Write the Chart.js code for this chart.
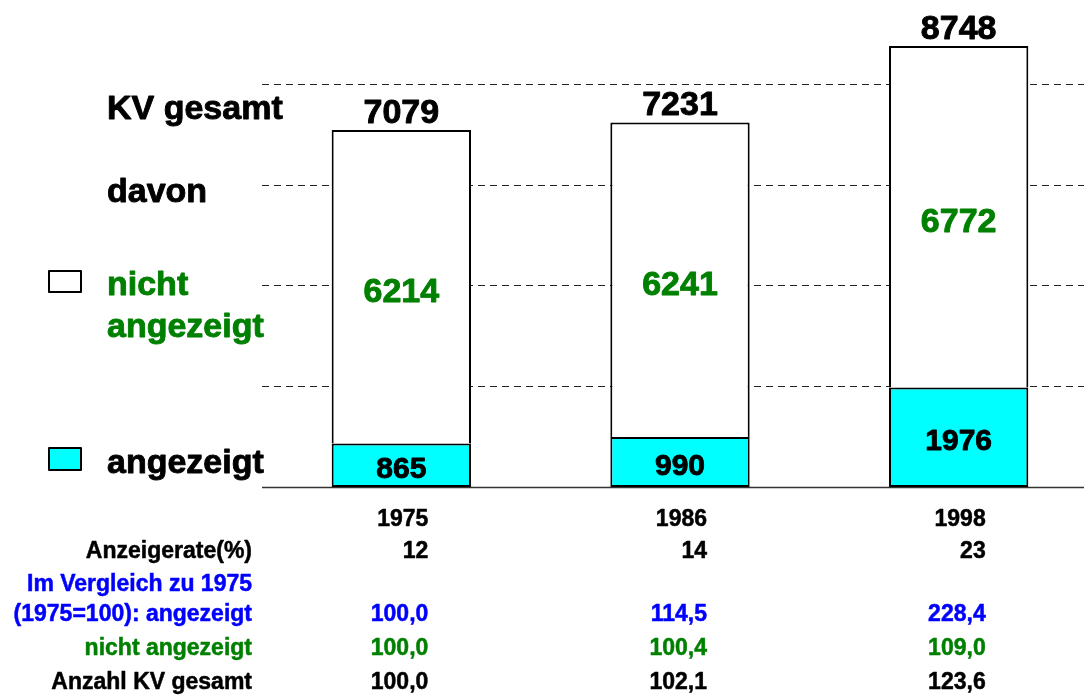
<!DOCTYPE html>
<html>
<head>
<meta charset="utf-8">
<script src="https://cdn.jsdelivr.net/npm/chart.js@4.4.1/dist/chart.umd.min.js"></script>
<style>
  html, body { margin: 0; padding: 0; background: #fff; overflow: hidden; }
  #wrap { width: 1100px; height: 695px; }
</style>
</head>
<body>
<div id="wrap"><canvas id="grafik" width="1100" height="695"></canvas></div>
<script>
const jahre = ["1975", "1986", "1998"];
const angezeigt = [865, 990, 1976];
const nichtAngezeigt = [6214, 6241, 6772];
const gesamt = [7079, 7231, 8748];
const anzeigerate = ["12", "14", "23"];
const indexAngezeigt = ["100,0", "114,5", "228,4"];
const indexNicht = ["100,0", "100,4", "109,0"];
const indexGesamt = ["100,0", "102,1", "123,6"];
const yTicks = [0, 2000, 4000, 6000, 8000];

const SCHRIFT = '"Liberation Sans", Arial, sans-serif';
const GRUEN = "#008000";
const BLAU = "#0000FF";
const CYAN = "#00FFFF";

// fett gezeichneter Text, leicht nachgezogen damit er so kraeftig wirkt wie im Original
function text(ctx, t, x, y, size, color, align) {
  ctx.font = "bold " + size + "px " + SCHRIFT;
  ctx.fillStyle = color;
  ctx.strokeStyle = color;
  ctx.lineWidth = size > 25 ? 0.9 : 0.5;
  ctx.lineJoin = "round";
  ctx.setLineDash([]);
  ctx.textAlign = align || "left";
  ctx.textBaseline = "alphabetic";
  ctx.fillText(t, x, y);
  ctx.strokeText(t, x, y);
}

const beschriftung = {
  id: "beschriftung",
  beforeDatasetsDraw(chart) {
    const ctx = chart.ctx;
    const area = chart.chartArea;
    const y = chart.scales.y;
    ctx.save();
    yTicks.forEach(v => {
      const py = Math.round(y.getPixelForValue(v)) + 0.5;
      ctx.beginPath();
      if (v === 0) {
        ctx.setLineDash([]);
        ctx.strokeStyle = "#333";
        ctx.lineWidth = 1.5;
      } else {
        ctx.setLineDash([7, 5]);
        ctx.strokeStyle = "#222";
        ctx.lineWidth = 1;
      }
      ctx.moveTo(area.left, py);
      ctx.lineTo(area.right, py);
      ctx.stroke();
    });
    ctx.restore();
  },
  afterDatasetsDraw(chart) {
    const ctx = chart.ctx;
    ctx.save();
    const unten = chart.getDatasetMeta(0).data;
    const oben = chart.getDatasetMeta(1).data;
    unten.forEach((el, i) => {
      const mitte = (el.y + el.base) / 2;
      text(ctx, String(angezeigt[i]), el.x, mitte + 13, 30, "#000", "center");
    });
    oben.forEach((el, i) => {
      const mitte = (el.y + el.base) / 2;
      text(ctx, String(nichtAngezeigt[i]), el.x, mitte + 15, 34, GRUEN, "center");
      text(ctx, String(gesamt[i]), el.x, el.y - 7, 34, "#000", "center");
    });
    ctx.restore();
  },
  afterDraw(chart) {
    const ctx = chart.ctx;
    const x = chart.scales.x;
    ctx.save();

    // Legende links
    text(ctx, "KV gesamt", 107, 119, 34, "#000");
    text(ctx, "davon", 107, 202, 34, "#000");
    ctx.lineWidth = 2;
    ctx.strokeStyle = "#000";
    ctx.fillStyle = chart.data.datasets[1].backgroundColor;
    ctx.fillRect(49, 271, 32, 21);
    ctx.strokeRect(49, 271, 32, 21);
    text(ctx, "nicht", 107, 295, 34, GRUEN);
    text(ctx, "angezeigt", 107, 337, 34, GRUEN);
    ctx.lineWidth = 2;
    ctx.strokeStyle = "#000";
    ctx.fillStyle = chart.data.datasets[0].backgroundColor;
    ctx.fillRect(49, 448, 32, 22);
    ctx.strokeRect(49, 448, 32, 22);
    text(ctx, "angezeigt", 107, 473, 34, "#000");

    // Tabelle unten
    const zeilen = [
      { label: "", werte: jahre, farbe: "#000", y: 526 },
      { label: "Anzeigerate(%)", werte: anzeigerate, farbe: "#000", y: 558 },
      { label: "Im Vergleich zu 1975", werte: null, farbe: BLAU, y: 591 },
      { label: "(1975=100): angezeigt", werte: indexAngezeigt, farbe: BLAU, y: 621 },
      { label: "nicht angezeigt", werte: indexNicht, farbe: GRUEN, y: 655 },
      { label: "Anzahl KV gesamt", werte: indexGesamt, farbe: "#000", y: 689 }
    ];
    zeilen.forEach(z => {
      if (z.label) text(ctx, z.label, 252, z.y, 23, z.farbe, "right");
      if (z.werte) {
        z.werte.forEach((w, i) => {
          text(ctx, w, x.getPixelForValue(i) + 27, z.y, 23, z.farbe, "right");
        });
      }
    });
    ctx.restore();
  }
};

new Chart(document.getElementById("grafik"), {
  type: "bar",
  data: {
    labels: jahre,
    datasets: [
      {
        label: "angezeigt",
        data: angezeigt,
        backgroundColor: CYAN,
        borderColor: "#000",
        borderWidth: 2,
        borderSkipped: false
      },
      {
        label: "nicht angezeigt",
        data: nichtAngezeigt,
        backgroundColor: "#FFFFFF",
        borderColor: "#000",
        borderWidth: { top: 2, left: 2, right: 2, bottom: 0 },
        borderSkipped: false
      }
    ]
  },
  options: {
    responsive: false,
    animation: false,
    layout: { padding: { left: 262, right: 2, top: 3, bottom: 208 } },
    datasets: { bar: { categoryPercentage: 1, barPercentage: 0.5 } },
    plugins: { legend: { display: false }, tooltip: { enabled: false } },
    scales: {
      x: { stacked: true, display: false },
      y: { stacked: true, display: false, min: 0, max: 9600 }
    }
  },
  plugins: [beschriftung]
});
</script>
</body>
</html>
